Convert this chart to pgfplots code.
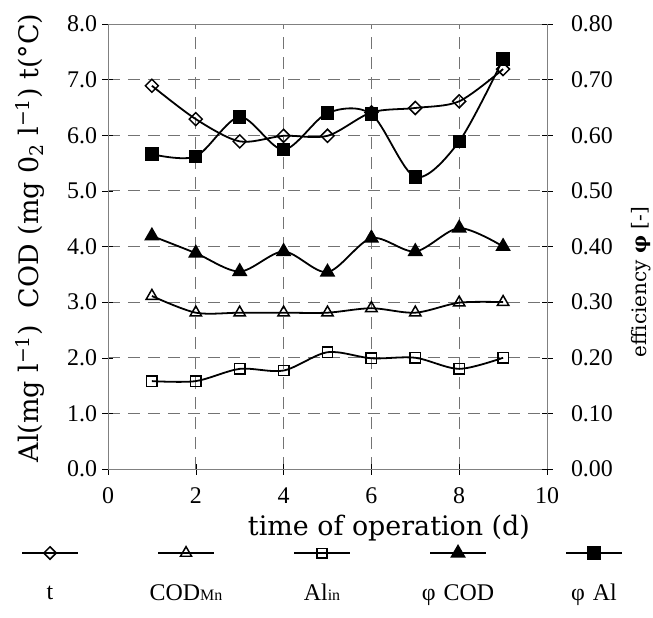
\documentclass[border=0pt]{standalone}
\usepackage{pgfplots}
\pgfplotsset{compat=1.18}
\usepackage{fontspec}
\setmainfont{Liberation Serif}
\newfontfamily\labelfont{DejaVu Serif}

\pgfplotsset{
  common/.style={
    scale only axis, width=439bp, height=445bp,
    xmin=0, xmax=10,
    tick align=center, major tick length=11bp,
    tick style={black, line width=0.5pt},
    axis line style={gray, line width=0.6pt},
    tick label style={font=\fontsize{24}{28}\selectfont},
    /pgf/number format/assume math mode=true,
  },
  ser/.style={black, line width=1.8pt, smooth},
  lgimg/.style={legend image code/.code={
    \begin{pgfinterruptboundingbox}
    \draw[mark repeat=2, mark phase=2, ##1]
      plot coordinates {(17bp,40bp) (45bp,40bp) (73bp,40bp)};
    \end{pgfinterruptboundingbox}}},
}

\pgfplotstableread{
x  t     cod   al
1  6.89  3.11  1.58
2  6.29  2.81  1.58
3  5.89  2.81  1.80
4  5.99  2.81  1.77
5  5.99  2.81  2.10
6  6.41  2.89  1.99
7  6.49  2.81  2.00
8  6.61  2.99  1.80
9  7.19  3.00  2.00
}\leftdata

\pgfplotstableread{
x  pcod   pal
1  0.419  0.566
2  0.388  0.562
3  0.355  0.633
4  0.391  0.574
5  0.354  0.640
6  0.415  0.638
7  0.391  0.525
8  0.433  0.589
9  0.400  0.737
}\rightdata

\begin{document}
\begin{tikzpicture}
\begin{axis}[
  common, name=main,
  ymin=0, ymax=8,
  xtick={0,2,...,10}, ytick={0,1,...,8},
  xtick pos=bottom, ytick pos=left,
  grid=major,
  major grid style={black!55, line width=0.8pt, dash pattern=on 12bp off 8bp},
  yticklabel style={/pgf/number format/fixed, /pgf/number format/fixed zerofill,
    /pgf/number format/precision=1, /tikz/xshift=-2bp},
  xticklabel style={yshift=-10bp},
  ylabel={Al(mg l\textsuperscript{−1})\ \ COD (mg 0\textsubscript{2} l\textsuperscript{−1}) t(°C)},
  ylabel style={at={(axis description cs:-0.178,0.519)}, anchor=center,
    font=\labelfont\fontsize{27}{31}\selectfont},
  xlabel={time of operation (d)},
  xlabel style={at={(axis description cs:0.64,-0.1326)}, anchor=center,
    font=\labelfont\fontsize{27}{31}\selectfont},
]
\addplot[ser, mark=square, mark size=4.6bp, mark options={rotate=45, fill=white, solid, line width=1.5pt}]
  table[x=x, y=t] {\leftdata};
\addplot[ser, mark=triangle, mark size=6.6bp, mark options={fill=white, solid, line width=1.5pt}]
  table[x=x, y=cod] {\leftdata};
\addplot[ser, mark=square, mark size=5.2bp, mark options={fill=white, solid, line width=1.5pt}]
  table[x=x, y=al] {\leftdata};
\end{axis}

\begin{axis}[
  common,
  ymin=0, ymax=0.8,
  axis x line=none, axis y line*=right,
  ytick={0,0.1,...,0.81},
  yticklabel style={/pgf/number format/fixed, /pgf/number format/fixed zerofill,
    /pgf/number format/precision=2, /tikz/xshift=15bp},
  ylabel={efficiency \textbf{φ} [-]},
  ylabel style={at={(axis description cs:1.214,0.42)}, anchor=center,
    font=\labelfont\fontsize{20}{24}\selectfont},
  lgimg,
  legend columns=5,
  legend style={at={(axis description cs:-0.235,-0.258)}, anchor=north west,
    draw=none, fill=none, inner sep=0pt,
    font=\fontsize{24}{28}\selectfont,
    nodes={text width=90bp, align=center, inner sep=0pt},
    /tikz/every odd column/.append style={column sep=0bp},
    /tikz/every even column/.append style={column sep=46bp}},
]
\addlegendimage{ser, mark=square, mark size=4.4bp, mark options={rotate=45, fill=white, line width=1.5pt}}
\addlegendentry{t}
\addlegendimage{ser, mark=triangle, mark size=6.4bp, mark options={fill=white, line width=1.5pt}}
\addlegendentry{COD{\fontsize{16}{19}\selectfont Mn}}
\addlegendimage{ser, mark=square, mark size=4.8bp, mark options={fill=white, line width=1.5pt}}
\addlegendentry{Al{\fontsize{16}{19}\selectfont in}}
\addplot[ser, mark=triangle*, mark size=7.2bp, mark options={fill=black, solid}]
  table[x=x, y=pcod] {\rightdata};
\addlegendentry{φ COD}
\addplot[ser, mark=square*, mark size=5.8bp, mark options={fill=black, solid}]
  table[x=x, y=pal] {\rightdata};
\addlegendentry{φ Al}
\end{axis}

% fixed frame around the plot so the page keeps its proportions
\pgfresetboundingbox
\useasboundingbox ([xshift=-108bp, yshift=-149bp]main.south west)
  rectangle ([xshift=106bp, yshift=24bp]main.north east);
\end{tikzpicture}
\end{document}
